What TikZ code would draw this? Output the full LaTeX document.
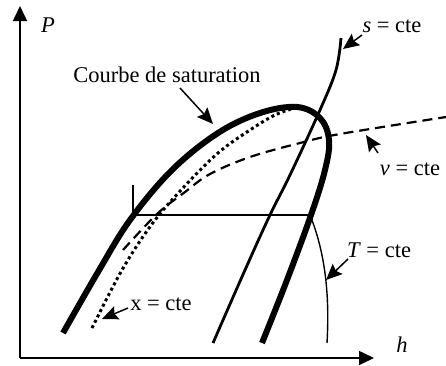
\documentclass[tikz,border=0pt]{standalone}
\usepackage{fontspec}
\setmainfont{Liberation Serif}
\usepackage{tikz}
\usetikzlibrary{arrows.meta,positioning}
\definecolor{ink}{HTML}{000000}

\tikzset{
  axis/.style={ink,line width=1.6pt,-{Triangle[length=15pt,width=14pt]}},
  satline/.style={ink,line width=6pt},
  isoline/.style={ink,line width=1.4pt},
  callout/.style={ink,line width=1.5pt,-{Stealth[length=16pt,width=14pt,inset=2.5pt]}},
  lbl/.style={font=\fontsize{22.5}{26}\selectfont,inner sep=0pt,anchor=base}
}

\begin{document}
\begin{tikzpicture}[x=1pt,y=-1pt]
    \useasboundingbox (0,0) rectangle (446,365);
    % axes
    \coordinate (origin) at (20,358);
    \coordinate (ptop) at (20,6);
    \coordinate (hend) at (374,358);
    \draw[axis] (origin) -- (ptop);
    \draw[axis] (origin) -- (hend);
    \node[lbl] (plabel) at (48,32) {\textit{P}};
    \node[lbl] (hlabel) at (402,352) {\textit{h}};

    % saturation curve, x, v, s and T lines
    \draw[satline] plot[smooth,tension=0.6] coordinates {(63,333) (98,272) (130,220)
        (172,170) (218,133) (260,113) (297,107) (320,118) (329,140) (325,170)
        (311,215) (287,280) (262,343)};
    \draw[ink,line width=3pt,dash pattern=on 3pt off 3pt]
        plot[smooth,tension=0.6] coordinates {(92,328) (122,270) (152,224)
        (182,189) (218,153) (250,130) (275,115) (295,108)};
    \draw[ink,line width=2.2pt,dash pattern=on 10pt off 6pt]
        plot[smooth,tension=0.6] coordinates {(123,250) (157,214) (185,192)
        (210,174) (250,157) (300,143) (340,134) (446,117)};
    \draw[ink,line width=2.8pt] plot[smooth,tension=0.6] coordinates {(213,343)
        (245,270) (270,215) (290,175) (320,110) (336,70) (341,38)};
    \coordinate (tick) at (133,185);
    \coordinate (liq) at (133,215);
    \coordinate (vap) at (310,215);
    \draw[isoline] (tick) -- (liq) -- (vap);
    \draw[isoline] (vap) .. controls (324,250) and (330,290) .. (327,343);

    % labels with arrows
    \node[lbl] (satlabel) at (167,82) {Courbe de saturation};
    \node[lbl] (slabel) at (392,32) {\textit{s} = cte};
    \node[lbl] (vlabel) at (410,175) {\textit{v} = cte};
    \node[lbl] (tlabel) at (379,257) {\textit{T} = cte};
    \node[lbl] (xlabel) at (161,310) {x = cte};
    \coordinate (sattail) at (180,88);
    \coordinate (sattip) at (213,124);
    \coordinate (stail) at (362,35);
    \coordinate (stip) at (343,49);
    \coordinate (vtail) at (378,153);
    \coordinate (vtip) at (366,135);
    \coordinate (ttail) at (348,259);
    \coordinate (ttip) at (326,280);
    \coordinate (xtail) at (128,308);
    \coordinate (xtip) at (102,319);
    \draw[callout] (sattail) -- (sattip);
    \draw[callout] (stail) -- (stip);
    \draw[callout] (vtail) -- (vtip);
    \draw[callout] (ttail) -- (ttip);
    \draw[callout] (xtail) -- (xtip);
\end{tikzpicture}
\end{document}
